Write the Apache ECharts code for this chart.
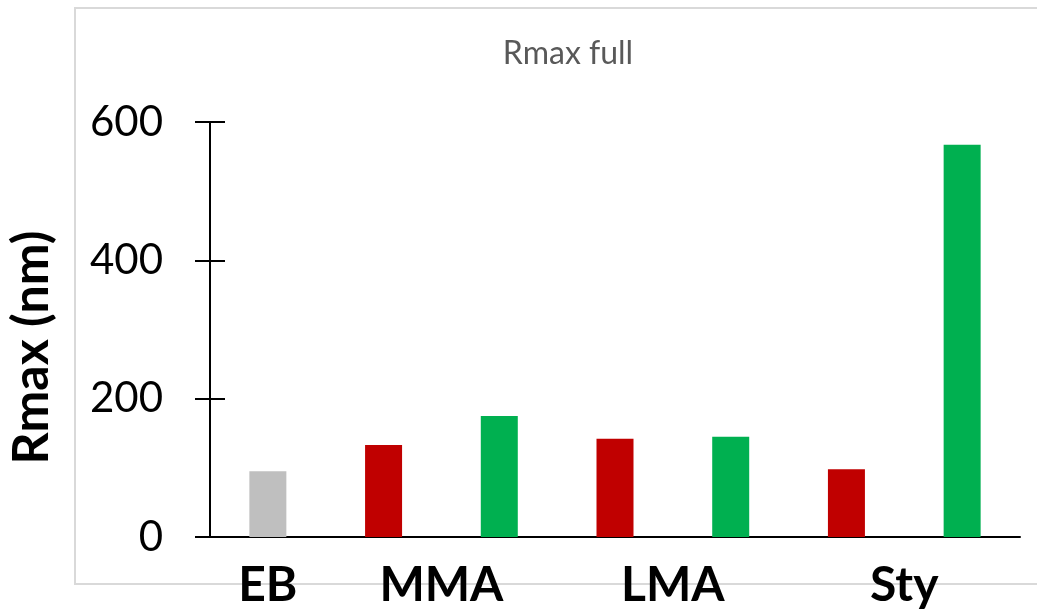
<!DOCTYPE html>
<html>
<head>
<meta charset="utf-8">
<script src="https://cdn.jsdelivr.net/npm/echarts@6/dist/echarts.min.js"></script>
<style>
  html, body { margin: 0; padding: 0; background: #fff; }
  #chart { width: 1037px; height: 615px; }
</style>
</head>
<body>
<div id="chart"></div>
<script>
// one entry per bar, left to right
const categories = ['EB', 'MMA', 'MMA', 'LMA', 'LMA', 'Sty', 'Sty']
const rmaxValues = [95, 133, 175, 142, 145, 98, 567]
const barKinds = ['ref', 'red', 'green', 'red', 'green', 'red', 'green']
const yTicks = [0, 200, 400, 600]

const kindColors = { ref: '#bfbfbf', red: '#c00000', green: '#00b050' }

// group labels sit under the middle of their bars
const groupLabels = [...new Set(categories)]
const groupCenters = groupLabels.map(g => {
    const idx = categories.map((c, i) => c === g ? i : -1).filter(i => i >= 0)
    return idx.reduce((a, b) => a + b, 0) / idx.length
})

const font = 'Lato, "Open Sans", sans-serif'
const chart = echarts.init(document.getElementById('chart'))

const yCommon = {
    type: 'value',
    min: yTicks[0],
    max: yTicks[yTicks.length - 1],
    interval: yTicks[1] - yTicks[0],
    splitLine: { show: false }
}

chart.setOption({
    animation: false,
    title: {
        text: 'Rmax full',
        left: 563,
        top: 33,
        textAlign: 'center',
        textStyle: { fontFamily: font, fontSize: 32, fontWeight: 'normal', color: '#595959' }
    },
    graphic: [{
        type: 'rect',
        shape: { x: 75, y: 8, width: 980, height: 576 },
        style: { fill: 'none', stroke: '#d9d9d9', lineWidth: 2 },
        silent: true
    }],
    grid: { left: 210, right: 17, top: 122, bottom: 78, containLabel: false, outerBoundsMode: 'none' },
    xAxis: [{
        type: 'category',
        data: categories.map((c, i) => c + i),
        axisLine: { onZero: false, lineStyle: { color: '#000', width: 2 } },
        axisTick: { show: false },
        axisLabel: { show: false }
    }, {
        type: 'value',
        position: 'bottom',
        min: -0.5,
        max: categories.length - 0.5,
        interval: 0.5,
        axisLine: { show: false, onZero: false },
        axisTick: { show: false },
        splitLine: { show: false },
        axisLabel: {
            margin: 25,
            fontFamily: font,
            fontSize: 48,
            fontWeight: 'bold',
            color: '#000',
            formatter: v => {
                const k = groupCenters.findIndex(c => Math.abs(c - v) < 1e-6)
                return k >= 0 ? groupLabels[k] : ''
            }
        }
    }],
    yAxis: [Object.assign({}, yCommon, {
        name: 'Rmax (nm)',
        nameLocation: 'middle',
        nameGap: 153,
        nameTextStyle: { fontFamily: font, fontSize: 50, fontWeight: 'bold', color: '#000', padding: [0, 36, 0, 0] },
        axisLine: { show: true, onZero: false, lineStyle: { color: '#000', width: 2 } },
        axisTick: { show: true, length: 15, lineStyle: { color: '#000', width: 2 } },
        axisLabel: { margin: 47, fontFamily: font, fontSize: 42, color: '#000' }
    }), Object.assign({}, yCommon, {
        position: 'left',
        axisLine: { show: false, onZero: false },
        axisTick: { show: true, inside: true, length: 15, lineStyle: { color: '#000', width: 2 } },
        axisLabel: { show: false }
    })],
    series: [{
        type: 'bar',
        barWidth: 37,
        data: rmaxValues.map((v, i) => ({ value: v, itemStyle: { color: kindColors[barKinds[i]] } }))
    }]
})
</script>
</body>
</html>
